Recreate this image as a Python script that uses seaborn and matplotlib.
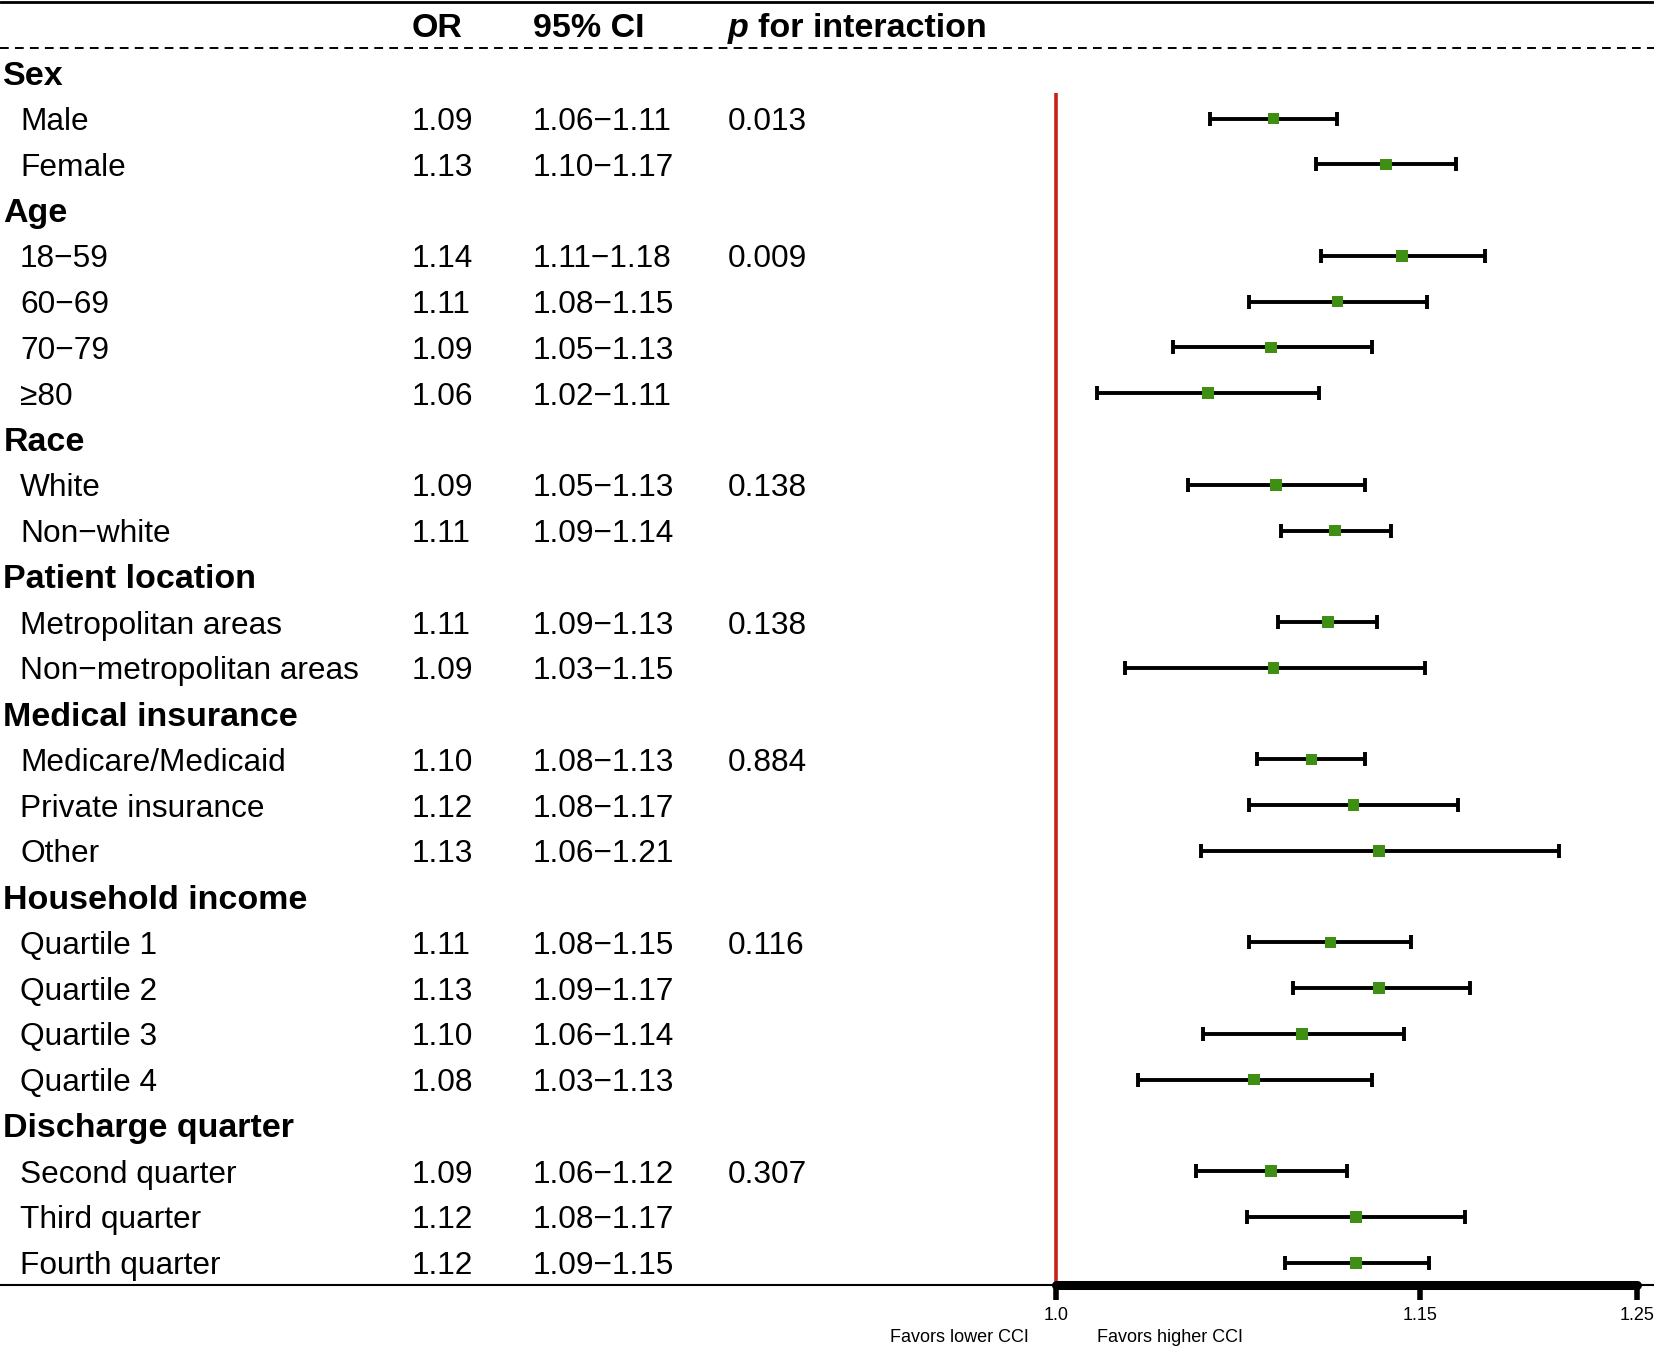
import matplotlib
matplotlib.use("Agg")
from matplotlib import pyplot as plt
from matplotlib import transforms
from matplotlib.ticker import NullLocator
import pandas as pd
import seaborn as sns

# table content
groups = ["Sex", "Age", "Race", "Patient location", "Medical insurance",
          "Household income", "Discharge quarter"]
subgroups = [
    ["Male", "Female"],
    ["18\u221259", "60\u221269", "70\u221279", "\u226580"],
    ["White", "Non\u2212white"],
    ["Metropolitan areas", "Non\u2212metropolitan areas"],
    ["Medicare/Medicaid", "Private insurance", "Other"],
    ["Quartile 1", "Quartile 2", "Quartile 3", "Quartile 4"],
    ["Second quarter", "Third quarter", "Fourth quarter"],
]
p_interaction = ["0.013", "0.009", "0.138", "0.138", "0.884", "0.116", "0.307"]

or_text = ["1.09", "1.13",
           "1.14", "1.11", "1.09", "1.06",
           "1.09", "1.11",
           "1.11", "1.09",
           "1.10", "1.12", "1.13",
           "1.11", "1.13", "1.10", "1.08",
           "1.09", "1.12", "1.12"]
ci_text = ["1.06\u22121.11", "1.10\u22121.17",
           "1.11\u22121.18", "1.08\u22121.15", "1.05\u22121.13", "1.02\u22121.11",
           "1.05\u22121.13", "1.09\u22121.14",
           "1.09\u22121.13", "1.03\u22121.15",
           "1.08\u22121.13", "1.08\u22121.17", "1.06\u22121.21",
           "1.08\u22121.15", "1.09\u22121.17", "1.06\u22121.14", "1.03\u22121.13",
           "1.06\u22121.12", "1.08\u22121.17", "1.09\u22121.15"]

# plotted estimates (unrounded)
odds_ratio = [1.087, 1.135,
              1.142, 1.114, 1.086, 1.060,
              1.088, 1.113,
              1.110, 1.087,
              1.103, 1.121, 1.132,
              1.111, 1.132, 1.099, 1.079,
              1.086, 1.122, 1.122]
ci_low = [1.061, 1.105,
          1.107, 1.077, 1.046, 1.016,
          1.052, 1.090,
          1.089, 1.027,
          1.080, 1.077, 1.057,
          1.077, 1.095, 1.058, 1.032,
          1.055, 1.076, 1.092]
ci_high = [1.114, 1.166,
           1.179, 1.153, 1.129, 1.106,
           1.126, 1.137,
           1.131, 1.152,
           1.126, 1.167, 1.213,
           1.146, 1.172, 1.143, 1.129,
           1.118, 1.170, 1.154]

x_ticks = [1.0, 1.15, 1.25]
x_tick_labels = ["1.0", "1.15", "1.25"]

# build row layout: each group heading followed by its subgroups
rows = []
r = 0
k = 0
for g, subs, p in zip(groups, subgroups, p_interaction):
    rows.append(dict(row=r, label=g, heading=True))
    r += 1
    for j, s in enumerate(subs):
        rows.append(dict(row=r, label=s, heading=False, idx=k,
                         p=p if j == 0 else ""))
        r += 1
        k += 1
rows = pd.DataFrame(rows)
est = rows[~rows["heading"]].copy()
est["idx"] = est["idx"].astype(int)
est["or"] = [odds_ratio[i] for i in est["idx"]]
est["lo"] = [ci_low[i] for i in est["idx"]]
est["hi"] = [ci_high[i] for i in est["idx"]]
est["or_txt"] = [or_text[i] for i in est["idx"]]
est["ci_txt"] = [ci_text[i] for i in est["idx"]]

sns.set_theme(style="white")
plt.rcParams["font.family"] = ["Liberation Sans", "DejaVu Sans"]
plt.rcParams["text.color"] = "black"
plt.rcParams["xtick.color"] = "black"
plt.rcParams["axes.edgecolor"] = "black"

fig = plt.figure(figsize=(16.54, 13.46), dpi=100)
ax = fig.add_axes([0.6385, 0.0452, 0.3515, 0.9532])
ax.set_facecolor("none")

y_top, y_bottom = -1.545, 26.49
ax.set_ylim(y_bottom, y_top)
ax.set_xscale("log")
ax.set_xlim(1.0, 1.25)

# confidence intervals
ax.errorbar(est["or"], est["row"],
            xerr=[est["or"] - est["lo"], est["hi"] - est["or"]],
            fmt="none", ecolor="black", elinewidth=2.8, capsize=5,
            capthick=2.8, zorder=2)
sns.scatterplot(data=est, x="or", y="row", marker="s", s=70,
                color="#3f8f14", edgecolor="none", ax=ax, zorder=3,
                legend=False)

# reference line
ax.plot([1.0, 1.0], [0.44, y_bottom], color="#c8201b", lw=2.6,
        solid_capstyle="butt", zorder=1, clip_on=False)

# axis
for side in ["top", "right", "left"]:
    ax.spines[side].set_visible(False)
ax.spines["bottom"].set_linewidth(6.5)
ax.spines["bottom"].set_capstyle("round")
ax.spines["bottom"].set_zorder(4)
ax.set_xticks(x_ticks)
ax.set_xticklabels(x_tick_labels)
ax.xaxis.set_minor_locator(NullLocator())
ax.tick_params(axis="x", direction="out", length=11, width=4, pad=5,
               labelsize=13, bottom=True, color="black", labelcolor="black")
ax.set_yticks([])
ax.set_xlabel("")
ax.set_ylabel("")

# table text
blend = transforms.blended_transform_factory(fig.transFigure, ax.transData)
x_label, x_sub, x_or, x_ci, x_p = 0.002, 0.0121, 0.2487, 0.3221, 0.4400
fs_reg, fs_bold = 22.8, 24.5
va = "center_baseline"
y_head = -1.05

ax.text(x_or, y_head, "OR", transform=blend, ha="left", va=va,
        fontsize=fs_bold, fontweight="bold")
ax.text(x_ci, y_head, "95% CI", transform=blend, ha="left", va=va,
        fontsize=fs_bold, fontweight="bold")
ax.text(x_p, y_head, "p", transform=blend, ha="left", va=va,
        fontsize=fs_bold, fontweight="bold", fontstyle="italic")
ax.text(x_p + 0.0185, y_head, "for interaction", transform=blend, ha="left",
        va=va, fontsize=fs_bold, fontweight="bold")

for _, rw in rows.iterrows():
    if rw["heading"]:
        ax.text(x_label, rw["row"], rw["label"], transform=blend, ha="left",
                va=va, fontsize=fs_bold, fontweight="bold")
    else:
        ax.text(x_sub, rw["row"], rw["label"], transform=blend, ha="left",
                va=va, fontsize=fs_reg)

for _, rw in est.iterrows():
    ax.text(x_or, rw["row"], rw["or_txt"], transform=blend, ha="left",
            va=va, fontsize=fs_reg)
    ax.text(x_ci, rw["row"], rw["ci_txt"], transform=blend, ha="left",
            va=va, fontsize=fs_reg)
    if rw["p"]:
        ax.text(x_p, rw["row"], rw["p"], transform=blend, ha="left",
                va=va, fontsize=fs_reg)

# horizontal rules
ax.plot([0, 1], [y_top, y_top], transform=blend, color="black", lw=2,
        clip_on=False)
ax.plot([0, 1], [-0.553, -0.553], transform=blend, color="black", lw=1.4,
        dashes=(4.5, 3.2), clip_on=False)
ax.plot([0, 1], [y_bottom, y_bottom], transform=blend, color="black", lw=1.5,
        clip_on=False, zorder=1)

fig.text(0.6218, 0.0066, "Favors lower CCI", ha="right", va="center",
         fontsize=13)
fig.text(0.6633, 0.0066, "Favors higher CCI", ha="left", va="center",
         fontsize=13)

fig.savefig("out.png", dpi=100)
